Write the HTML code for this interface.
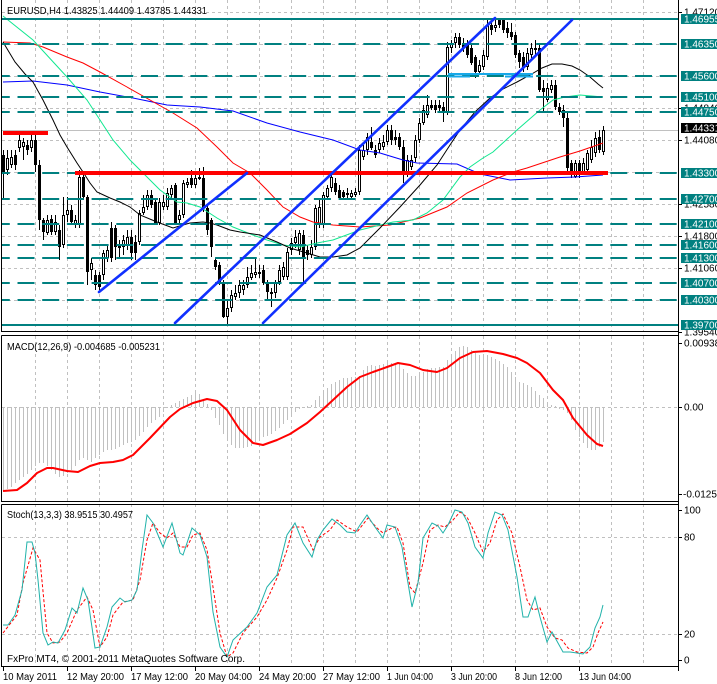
<!DOCTYPE html>
<html><head><meta charset="utf-8"><style>
html,body{margin:0;padding:0;background:#fff;}
svg{display:block;font-family:"Liberation Sans",sans-serif;font-size:10px;}
</style></head><body>
<svg width="717" height="684" viewBox="0 0 717 684" xmlns="http://www.w3.org/2000/svg">
<defs>
<clipPath id="cm"><rect x="2" y="0" width="676" height="331"/></clipPath>
<clipPath id="cd"><rect x="2" y="336" width="676" height="165"/></clipPath>
<clipPath id="cs"><rect x="2" y="505" width="676" height="161"/></clipPath>
</defs>
<rect width="717" height="684" fill="#fff"/>

<!-- vertical grid -->
<path stroke="#c0c0c0" stroke-width="1" stroke-dasharray="3 3" fill="none" d="M35.5 0V666M67.5 0V666M99.5 0V666M131.5 0V666M163.5 0V666M195.5 0V666M227.5 0V666M259.5 0V666M291.5 0V666M323.5 0V666M355.5 0V666M387.5 0V666M419.5 0V666M451.5 0V666M483.5 0V666M515.5 0V666M547.5 0V666M579.5 0V666M611.5 0V666M643.5 0V666"/>
<!-- horizontal grid -->
<path stroke="#c0c0c0" stroke-width="1" stroke-dasharray="3 3" fill="none" d="M2 12.5H678M2 44.5H678M2 76.5H678M2 108.5H678M2 140.5H678M2 172.5H678M2 204.5H678M2 236.5H678M2 268.5H678M2 300.5H678M2 407.5H678M2 537.5H678M2 634.5H678"/>
<!-- bid line -->
<path stroke="#c0c0c0" stroke-width="1" d="M2 130.5H678"/>
<!-- gaps between panes -->
<rect x="0" y="332" width="680" height="3" fill="#fff"/>
<rect x="0" y="502" width="680" height="2" fill="#fff"/>

<!-- candles -->
<g clip-path="url(#cm)">
<path stroke="#000" stroke-width="1" fill="none" d="M3.5 150V198M7.5 150V175M11.5 150V168M15.5 150V170M19.5 135V152M23.5 138V160M27.5 140V155M31.5 135V152M35.5 133V172M39.5 160V230M43.5 218V240M47.5 215V235M51.5 215V235M55.5 215V235M59.5 225V260M63.5 197V248M67.5 197V222M71.5 205V225M75.5 215V228M79.5 170V228M83.5 172V200M87.5 195V285M91.5 258V280M95.5 270V290M99.5 272V290M103.5 250V280M107.5 245V262M111.5 222V262M115.5 225V260M119.5 240V258M123.5 235V255M127.5 230V250M131.5 230V260M135.5 235V260M139.5 210V245M143.5 195V215M147.5 190V210M151.5 190V208M155.5 198V225M159.5 198V225M163.5 195V210M167.5 188V210M171.5 185V198M175.5 183V225M179.5 210V225M183.5 180V218M187.5 178V188M191.5 170V188M195.5 172V188M199.5 168V180M203.5 167V212M207.5 205V235M211.5 218V257M215.5 258V270M219.5 262V285M223.5 280V318M227.5 300V325M231.5 290V312M235.5 285V300M239.5 280V298M243.5 280V295M247.5 267V288M251.5 265V280M255.5 257V278M259.5 265V278M263.5 265V285M267.5 280V300M271.5 288V307M275.5 280V298M279.5 265V285M283.5 262V280M287.5 248V280M291.5 238V255M295.5 230V248M299.5 230V255M303.5 230V283M307.5 245V260M311.5 240V258M315.5 205V250M319.5 200V228M323.5 192V228M327.5 185V200M331.5 172V192M335.5 178V195M339.5 185V200M343.5 190V200M347.5 188V200M351.5 190V200M355.5 188V197M359.5 145V195M363.5 145V160M367.5 133V155M371.5 127V150M375.5 145V158M379.5 138V153M383.5 135V150M387.5 125V145M391.5 125V145M395.5 130V145M399.5 133V150M403.5 140V183M407.5 155V177M411.5 155V170M415.5 135V162M419.5 118V143M423.5 105V125M427.5 95V118M431.5 100V110M435.5 100V113M439.5 100V112M443.5 102V122M447.5 42V115M451.5 40V53M455.5 33V48M459.5 33V48M463.5 38V52M467.5 40V58M471.5 45V65M475.5 55V78M479.5 60V75M483.5 50V70M487.5 20V60M491.5 18V35M495.5 20V32M499.5 18V28M503.5 18V33M507.5 22V38M511.5 23V40M515.5 32V58M519.5 50V68M523.5 52V72M527.5 48V70M531.5 43V58M535.5 40V55M539.5 45V92M543.5 80V112M547.5 83V102M551.5 80V93M555.5 80V110M559.5 103V115M563.5 105V127M567.5 113V172M571.5 160V178M575.5 160V178M579.5 160V178M583.5 158V175M587.5 150V172M591.5 140V163M595.5 132V157M599.5 130V153M603.5 126V155"/>
<path fill="#000" d="M2 155h3v17h-3zM14 155h3v10h-3zM26 145h3v5h-3zM34 140h3v25h-3zM38 165h3v55h-3zM42 220h3v12h-3zM50 219h3v13h-3zM58 230h3v17h-3zM70 210h3v12h-3zM82 177h3v20h-3zM86 197h3v75h-3zM94 275h3v10h-3zM98 275h3v12h-3zM110 228h3v30h-3zM114 228h3v19h-3zM118 245h3v3h-3zM130 237h3v16h-3zM134 242h3v11h-3zM150 195h3v10h-3zM154 202h3v21h-3zM174 185h3v38h-3zM190 178h3v7h-3zM202 178h3v30h-3zM206 208h3v22h-3zM210 220h3v27h-3zM214 260h3v7h-3zM218 265h3v17h-3zM222 282h3v35h-3zM262 270h3v13h-3zM266 282h3v10h-3zM270 292h3v2h-3zM302 235h3v23h-3zM306 250h3v5h-3zM334 183h3v9h-3zM338 190h3v8h-3zM342 192h3v5h-3zM370 142h3v6h-3zM374 150h3v5h-3zM390 130h3v10h-3zM394 137h3v3h-3zM398 137h3v10h-3zM402 147h3v26h-3zM430 105h3v3h-3zM434 105h3v5h-3zM438 105h3v3h-3zM442 107h3v6h-3zM458 37h3v8h-3zM462 43h3v5h-3zM466 43h3v12h-3zM470 48h3v15h-3zM474 57h3v15h-3zM490 25h3v5h-3zM498 20h3v5h-3zM502 20h3v10h-3zM506 28h3v5h-3zM510 32h3v5h-3zM514 35h3v20h-3zM518 53h3v9h-3zM522 57h3v11h-3zM538 48h3v42h-3zM542 88h3v4h-3zM554 85h3v22h-3zM558 107h3v5h-3zM562 110h3v8h-3zM566 118h3v50h-3zM570 163h3v12h-3zM578 163h3v12h-3zM598 137h3v13h-3z"/>
<path fill="#fff" stroke="#000" stroke-width="1" d="M6.5 158.5h2v11h-2zM10.5 157.5h2v7h-2zM18.5 140.5h2v7h-2zM22.5 142.5h2v4h-2zM30.5 140.5h2v7h-2zM46.5 220.5h2v12h-2zM54.5 222.5h2v9h-2zM62.5 215.5h2v29h-2zM66.5 210.5h2v4h-2zM74.5 220.5h2v4h-2zM78.5 177.5h2v47h-2zM90.5 263.5h2v6h-2zM102.5 253.5h2v21h-2zM106.5 250.5h2v7h-2zM122.5 240.5h2v6h-2zM126.5 237.5h2v7h-2zM138.5 213.5h2v28h-2zM142.5 207.5h2v5h-2zM146.5 195.5h2v11h-2zM158.5 202.5h2v20h-2zM162.5 202.5h2v4h-2zM166.5 193.5h2v13h-2zM170.5 188.5h2v6h-2zM178.5 215.5h2v4h-2zM182.5 183.5h2v31h-2zM186.5 182.5h2v2h-2zM194.5 178.5h2v6h-2zM198.5 177.5h2v1h-2zM226.5 308.5h2v8h-2zM230.5 295.5h2v12h-2zM234.5 293.5h2v3h-2zM238.5 285.5h2v7h-2zM242.5 285.5h2v4h-2zM246.5 277.5h2v7h-2zM250.5 273.5h2v4h-2zM254.5 272.5h2v2h-2zM258.5 272.5h2v1h-2zM274.5 282.5h2v10h-2zM278.5 270.5h2v11h-2zM282.5 267.5h2v9h-2zM286.5 252.5h2v24h-2zM290.5 243.5h2v6h-2zM294.5 237.5h2v5h-2zM298.5 233.5h2v16h-2zM310.5 247.5h2v7h-2zM314.5 208.5h2v38h-2zM318.5 207.5h2v17h-2zM322.5 195.5h2v29h-2zM326.5 188.5h2v8h-2zM330.5 177.5h2v10h-2zM346.5 193.5h2v1h-2zM350.5 193.5h2v3h-2zM354.5 192.5h2v2h-2zM358.5 150.5h2v41h-2zM362.5 150.5h2v6h-2zM366.5 137.5h2v12h-2zM378.5 143.5h2v6h-2zM382.5 142.5h2v4h-2zM386.5 130.5h2v11h-2zM406.5 160.5h2v12h-2zM410.5 160.5h2v6h-2zM414.5 140.5h2v17h-2zM418.5 123.5h2v16h-2zM422.5 110.5h2v12h-2zM426.5 105.5h2v9h-2zM446.5 47.5h2v65h-2zM450.5 43.5h2v4h-2zM454.5 37.5h2v5h-2zM478.5 65.5h2v6h-2zM482.5 55.5h2v11h-2zM486.5 25.5h2v31h-2zM494.5 25.5h2v2h-2zM526.5 53.5h2v13h-2zM530.5 48.5h2v6h-2zM534.5 48.5h2v1h-2zM546.5 88.5h2v11h-2zM550.5 85.5h2v4h-2zM574.5 163.5h2v13h-2zM582.5 163.5h2v8h-2zM586.5 153.5h2v16h-2zM590.5 147.5h2v12h-2zM594.5 138.5h2v14h-2zM602.5 130.5h2v21h-2z"/>

<!-- moving averages -->
<g fill="none" stroke-width="1">
<polyline stroke="#0000ff" points="3,82 33,81 67,85 100,92 133,98 167,105 200,107 233,111 267,123 300,132 333,140 360,150 380,153 403,160 417,163 457,164 480,174 510,180 547,178 575,177 603,175"/>
<polyline stroke="#ff0000" points="3,42 30,43 43,47 67,57 83,63 100,72 127,87 150,100 173,113 197,128 217,147 233,163 250,173 267,190 283,207 300,217 313,222 333,225 360,227 390,225 420,218 447,207 467,193 493,180 513,172 527,168 545,162 560,157 580,151 603,143"/>
<polyline stroke="#10e890" points="3,16 33,40 67,77 87,100 113,140 130,160 143,173 160,190 177,202 187,203 200,207 217,218 233,227 253,235 267,240 283,245 300,247 317,243 333,240 360,230 393,222 413,220 427,213 443,200 460,177 470,167 483,158 493,152 517,130 540,110 553,100 565,97 580,95 603,97"/>
<polyline stroke="#000" points="3,42 15,62 25,74 33,82 43,100 53,120 60,135 67,147 77,163 83,172 90,183 97,192 110,198 120,202 130,207 140,215 157,222 173,228 183,225 190,223 203,222 210,223 217,225 230,230 240,232 260,235 277,242 290,248 307,253 320,257 333,257 347,255 360,248 380,228 400,207 420,185 437,165 450,145 460,130 475,112 490,98 503,89 517,82 530,75 542,68 552,64 562,64 572,66 580,70 590,77 598,84 603,88"/>
</g>

<!-- horizontal teal lines -->
<path stroke="#008080" stroke-width="2" fill="none" d="M2 19H678M2 325H678"/>
<path stroke="#008080" stroke-width="2" fill="none" stroke-dasharray="17 7.7" stroke-dashoffset="9.2" d="M2 44H678M2 76H678M2 97H678M2 112H678M2 173H678M2 199H678M2 224H678M2 245H678M2 258H678M2 283H678M2 300H678"/>
<!-- red horizontal lines -->
<path stroke="#ff0000" stroke-width="4" fill="none" d="M3 133H48M75 173H608"/>
<!-- cyan -->
<path stroke="#18a8e8" stroke-width="2" fill="none" d="M448 74H533M448 76.5H470M505 76.5H533"/>
<!-- blue channel lines -->
<path stroke="#1030ff" stroke-width="2.6" fill="none" stroke-linecap="round" d="M99 292L247 173M175 323L495 18M263 323L572 20"/>
</g>

<!-- MACD -->
<g clip-path="url(#cd)">
<path stroke="#c0c0c0" stroke-width="1" fill="none" d="M3.5 407V490M7.5 407V489M11.5 407V487M15.5 407V483M19.5 407V480M23.5 407V477M27.5 407V474M31.5 407V470M35.5 407V466M39.5 407V463M43.5 407V463M47.5 407V466M51.5 407V470M55.5 407V474M59.5 407V477M63.5 407V476M67.5 407V473M71.5 407V470M75.5 407V466M79.5 407V460M83.5 407V458M87.5 407V460M91.5 407V462M95.5 407V458M99.5 407V455M103.5 407V452M107.5 407V450M111.5 407V450M115.5 407V449M119.5 407V447M123.5 407V445M127.5 407V443M131.5 407V442M135.5 407V440M139.5 407V436M143.5 407V432M147.5 407V427M151.5 407V423M155.5 407V420M159.5 407V417M163.5 407V412M167.5 407V408M171.5 407V405M175.5 407V403M179.5 407V401M183.5 407V399M187.5 407V397M191.5 407V395M195.5 407V393M199.5 407V394M203.5 407V399M207.5 407V404M211.5 407V410M215.5 407V418M219.5 407V425M223.5 407V434M227.5 407V440M231.5 407V445M235.5 407V448M239.5 407V448M243.5 407V448M247.5 407V447M251.5 407V446M255.5 407V442M259.5 407V440M263.5 407V437M267.5 407V436M271.5 407V434M275.5 407V431M279.5 407V428M283.5 407V424M287.5 407V420M291.5 407V416M295.5 407V412M299.5 407V409M303.5 407V408M307.5 406V408M311.5 407V405M315.5 407V400M319.5 407V396M323.5 407V392M327.5 407V388M331.5 407V384M335.5 407V382M339.5 407V380M343.5 407V378M347.5 407V378M351.5 407V377M355.5 407V377M359.5 407V376M363.5 407V370M367.5 407V366M371.5 407V365M375.5 407V366M379.5 407V365M383.5 407V364M387.5 407V363M391.5 407V363M395.5 407V363M399.5 407V364M403.5 407V369M407.5 407V373M411.5 407V376M415.5 407V376M419.5 407V375M423.5 407V372M427.5 407V369M431.5 407V368M435.5 407V368M439.5 407V367M443.5 407V367M447.5 407V360M451.5 407V355M455.5 407V351M459.5 407V347M463.5 407V346M467.5 407V347M471.5 407V350M475.5 407V353M479.5 407V355M483.5 407V356M487.5 407V355M491.5 407V357M495.5 407V359M499.5 407V361M503.5 407V364M507.5 407V367M511.5 407V372M515.5 407V377M519.5 407V382M523.5 407V383M527.5 407V385M531.5 407V387M535.5 407V391M539.5 407V395M543.5 407V398M547.5 407V402M551.5 407V405M555.5 406V408M559.5 407V409M563.5 407V410M567.5 407V413M571.5 407V420M575.5 407V430M579.5 407V437M583.5 407V443M587.5 407V448M591.5 407V450M595.5 407V450M599.5 407V447M603.5 407V442"/>
<polyline fill="none" stroke="#ff0000" stroke-width="2" stroke-linejoin="round" points="3,491 17,490 27,483 37,473 47,468 53,468 67,471 78,472 90,466 100,463 113,462 123,460 133,455 150,438 170,417 180,409 193,403 207,399 217,401 227,410 240,430 253,443 263,445 277,440 290,434 307,423 320,412 333,400 347,387 360,377 373,372 387,367 398,363 410,365 423,370 437,372 447,368 460,358 473,352 487,351 503,354 517,358 527,363 540,373 553,390 563,400 573,418 587,435 597,444 603,446"/>
</g>

<!-- Stochastic -->
<g clip-path="url(#cs)" fill="none" stroke-width="1">
<polyline stroke="#ff0000" stroke-dasharray="3 2" points="3,633 17,615 23,583 33,548 40,560 47,633 53,643 60,642 67,633 77,610 87,597 93,610 100,647 107,637 113,615 123,602 133,600 140,580 147,540 153,523 160,533 167,538 173,533 180,547 187,547 193,535 200,533 207,550 213,587 220,633 227,657 233,653 243,633 257,617 267,600 277,578 287,550 293,527 303,527 313,550 320,537 330,530 337,520 347,527 357,532 368,518 377,528 383,533 392,528 397,527 403,543 410,587 415,593 423,563 430,530 438,525 445,527 453,520 460,512 467,517 475,533 483,552 490,543 497,520 503,514 512,533 520,567 527,600 533,610 540,608 547,627 555,638 562,640 568,648 577,652 587,653 593,647 598,633 603,622"/>
<polyline stroke="#20b2aa" points="3,625 8,625 15,615 22,590 27,542 32,542 35,553 38,580 43,633 48,645 53,642 58,643 65,630 72,608 77,613 83,588 88,600 95,648 100,647 107,627 112,607 120,598 125,602 132,600 137,590 142,550 147,515 153,523 163,547 172,523 180,553 183,555 192,528 200,535 207,557 213,612 220,647 227,657 233,640 247,627 257,613 267,587 277,575 287,535 295,523 303,543 312,557 317,540 323,530 332,519 340,525 347,532 355,533 360,525 367,515 375,527 383,538 387,525 395,527 402,547 412,607 418,583 423,538 432,523 438,526 443,533 448,525 455,510 462,512 468,523 475,547 483,558 488,533 495,512 502,515 508,530 517,577 523,617 528,617 535,597 540,617 547,642 552,632 558,643 563,652 570,652 577,653 583,654 590,647 595,628 600,617 603,605"/>
</g>

<!-- pane borders -->
<path stroke="#000" stroke-width="1" fill="none" d="M1.5 0V331.5H678.5M1.5 335.5H678.5M1.5 335.5V501.5H678.5M1.5 504.5H678.5M1.5 504.5V666.5H678.5M678.5 0V671"/>
<!-- axis ticks -->
<path stroke="#000" stroke-width="1" fill="none" d="M679 12.5H682M679 108.5H682M679 140.5H682M679 204.5H682M679 236.5H682M679 268.5H682M679 332.5H682M679 343.5H682M679 407.5H682M679 494.5H682M679 510.5H682M679 537.5H682M679 634.5H682M679 660.5H682M3.5 667V671M67.5 667V671M131.5 667V671M195.5 667V671M259.5 667V671M323.5 667V671M387.5 667V671M451.5 667V671M515.5 667V671M579.5 667V671"/>

<!-- right axis plain labels -->
<g fill="#000">
<text x="684" y="15.5">1.47120</text>
<text x="684" y="111.5">1.44840</text>
<text x="684" y="143.5">1.44080</text>
<text x="684" y="207.5">1.42580</text>
<text x="684" y="239.5">1.41800</text>
<text x="684" y="271.5">1.41060</text>
<text x="684" y="335.5">1.39540</text>
<text x="684" y="346.5">0.009385</text>
<text x="684" y="410.5">0.00</text>
<text x="683" y="497.5">-0.01255</text>
<text x="684" y="513.5">100</text>
<text x="684" y="540.5">80</text>
<text x="684" y="637.5">20</text>
<text x="684" y="663.5">0</text>
</g>
<!-- teal boxes -->
<g fill="#008080">
<rect x="681" y="14" width="36" height="10"/>
<rect x="681" y="39" width="36" height="10"/>
<rect x="681" y="71" width="36" height="10"/>
<rect x="681" y="92" width="36" height="10"/>
<rect x="681" y="107" width="36" height="10"/>
<rect x="681" y="168" width="36" height="10"/>
<rect x="681" y="194" width="36" height="10"/>
<rect x="681" y="219" width="36" height="10"/>
<rect x="681" y="240" width="36" height="10"/>
<rect x="681" y="253" width="36" height="10"/>
<rect x="681" y="278" width="36" height="10"/>
<rect x="681" y="295" width="36" height="10"/>
<rect x="681" y="320" width="36" height="10"/>
</g>
<rect x="681" y="123" width="36" height="10" fill="#000"/>
<g fill="#fff">
<text x="684" y="22.5">1.46955</text>
<text x="684" y="47.5">1.46350</text>
<text x="684" y="79.5">1.45600</text>
<text x="684" y="100.5">1.45100</text>
<text x="684" y="115.5">1.44750</text>
<text x="684" y="131.5">1.44331</text>
<text x="684" y="176.5">1.43300</text>
<text x="684" y="202.5">1.42700</text>
<text x="684" y="227.5">1.42100</text>
<text x="684" y="248.5">1.41600</text>
<text x="684" y="261.5">1.41300</text>
<text x="684" y="286.5">1.40700</text>
<text x="684" y="303.5">1.40300</text>
<text x="684" y="328.5">1.39700</text>
</g>

<!-- titles -->
<g fill="#000">
<text x="7" y="14" textLength="200" lengthAdjust="spacingAndGlyphs">EURUSD,H4  1.43825 1.44409 1.43785 1.44331</text>
<text x="7" y="350" textLength="153" lengthAdjust="spacingAndGlyphs">MACD(12,26,9) -0.004685 -0.005231</text>
<text x="7" y="518" textLength="126" lengthAdjust="spacingAndGlyphs">Stoch(13,3,3) 38.9515 30.4957</text>
<text x="7" y="662" textLength="238" lengthAdjust="spacingAndGlyphs">FxPro MT4, © 2001-2011 MetaQuotes Software Corp.</text>
</g>
<!-- time axis -->
<g fill="#000">
<text x="3" y="680" textLength="54" lengthAdjust="spacingAndGlyphs">10 May 2011</text>
<text x="67" y="680" textLength="57" lengthAdjust="spacingAndGlyphs">12 May 20:00</text>
<text x="131" y="680" textLength="57" lengthAdjust="spacingAndGlyphs">17 May 12:00</text>
<text x="195" y="680" textLength="57" lengthAdjust="spacingAndGlyphs">20 May 04:00</text>
<text x="259" y="680" textLength="57" lengthAdjust="spacingAndGlyphs">24 May 20:00</text>
<text x="323" y="680" textLength="57" lengthAdjust="spacingAndGlyphs">27 May 12:00</text>
<text x="387" y="680" textLength="46" lengthAdjust="spacingAndGlyphs">1 Jun 04:00</text>
<text x="451" y="680" textLength="46" lengthAdjust="spacingAndGlyphs">3 Jun 20:00</text>
<text x="515" y="680" textLength="47" lengthAdjust="spacingAndGlyphs">8 Jun 12:00</text>
<text x="579" y="680" textLength="52" lengthAdjust="spacingAndGlyphs">13 Jun 04:00</text>
</g>
</svg>
</body></html>
